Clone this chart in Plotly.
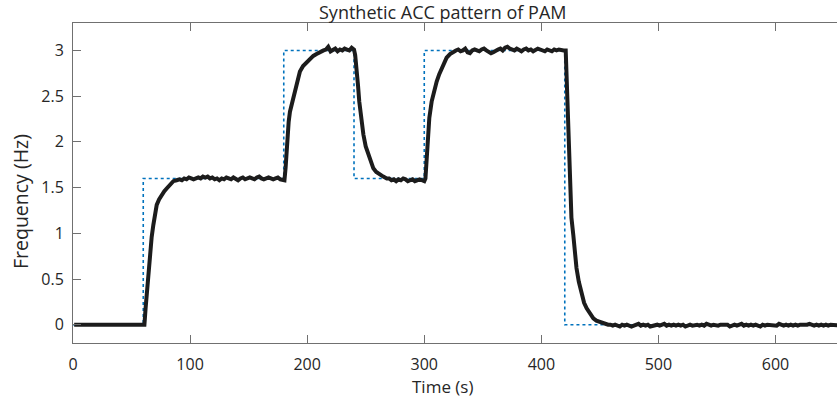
import plotly.graph_objects as go

# ---------------- data ----------------
# reference (commanded) frequency pattern, step-wise
ref_t = [0, 60, 180, 240, 300, 420, 655]
ref_f = [0, 1.6, 3.0, 1.6, 3.0, 0, 0]

idle_t = [1, 61]
idle_f = [0.0, 0.0]

rise1_t = [62, 63, 64.4, 65.8, 67.2, 68.6, 70, 71.5, 73.5, 75.7, 78, 80, 83, 85.7, 88.5, 91]
rise1_f = [0.18, 0.36, 0.60, 0.80, 0.96, 1.09, 1.21, 1.31, 1.37, 1.42, 1.46, 1.49, 1.54, 1.57, 1.58, 1.59]

plat1_t = list(range(93, 180, 2))
plat1_f = [1.58, 1.60, 1.59, 1.61, 1.60, 1.59, 1.60, 1.61, 1.60, 1.62,
           1.61, 1.62, 1.60, 1.61, 1.59, 1.60, 1.58, 1.60, 1.59, 1.61,
           1.60, 1.59, 1.61, 1.60, 1.58, 1.60, 1.61, 1.59, 1.60, 1.61,
           1.60, 1.59, 1.61, 1.62, 1.60, 1.59, 1.60, 1.61, 1.60, 1.59,
           1.60, 1.61, 1.59, 1.58]

rise2_t = [180.6, 181.6, 182.3, 183, 184.2, 185.3, 187.5, 189.6, 191.5, 193.8, 196.5, 199.5, 202, 205.2, 208, 210.5]
rise2_f = [1.58, 1.72, 1.92, 2.08, 2.22, 2.33, 2.44, 2.53, 2.66, 2.77, 2.83, 2.87, 2.91, 2.94, 2.96, 2.98]

plat2_t = list(range(212, 241, 2))
plat2_f = [2.98, 3.00, 3.01, 3.04, 2.99, 3.00, 3.02, 2.99, 3.01, 3.00,
           3.02, 3.01, 3.00, 3.03, 3.01]

fall1_t = [241, 242.3, 243.4, 244.5, 246, 248, 250, 252.2, 254, 256.5, 259, 262, 265, 268]
fall1_f = [2.95, 2.81, 2.62, 2.44, 2.25, 2.08, 1.95, 1.86, 1.78, 1.71, 1.67, 1.64, 1.62, 1.60]

plat3_t = list(range(270, 301, 2))
plat3_f = [1.60, 1.58, 1.59, 1.57, 1.59, 1.58, 1.60, 1.59, 1.57, 1.58,
           1.59, 1.57, 1.58, 1.59, 1.58, 1.57]

rise3_t = [301, 301.8, 302.6, 303.4, 304.3, 306.3, 308.5, 310.6, 312.8, 314.9, 317, 319.1, 322, 325]
rise3_f = [1.60, 1.80, 2.00, 2.14, 2.26, 2.44, 2.57, 2.66, 2.74, 2.81, 2.87, 2.92, 2.96, 2.99]

plat4_t = list(range(327, 420, 2))
plat4_f = [3.00, 3.01, 2.99, 3.00, 3.02, 2.98, 2.97, 3.00, 3.01, 3.00,
           2.99, 3.01, 3.02, 3.00, 2.99, 2.97, 2.98, 3.00, 3.01, 3.02,
           3.00, 3.03, 3.04, 3.02, 3.01, 3.00, 3.02, 3.01, 2.99, 3.01,
           3.02, 3.00, 3.01, 2.99, 3.00, 3.02, 3.01, 3.00, 2.99, 3.01,
           3.00, 2.99, 3.01, 3.00, 3.01, 3.00, 3.00]

fall2_t = [420.8, 421.8, 423, 424.4, 425.7, 427.3, 428.7, 430, 432, 434.4, 436.5, 438.7, 441.5, 444.4, 447, 450, 453.5, 457]
fall2_f = [3.00, 2.60, 2.08, 1.40, 1.17, 0.98, 0.79, 0.62, 0.47, 0.33, 0.24, 0.18, 0.12, 0.07, 0.045, 0.03, 0.01, 0.0]

tail_t = list(range(459, 656, 2))
tail_f = [0.00, -0.01, 0.00, -0.01, -0.02, 0.00, -0.01, 0.00, -0.01, -0.02,
          -0.01, 0.00, 0.01, -0.01, 0.00, -0.01, 0.00, -0.02, -0.01, 0.00,
          0.00, -0.01, 0.00, 0.01, -0.01, 0.00, -0.01, 0.00, -0.01, 0.00,
          -0.01, 0.00, -0.02, -0.01, 0.00, -0.01, 0.00, 0.00, -0.01, 0.00,
          -0.01, 0.01, 0.00, -0.01, 0.00, -0.01, -0.01, 0.00, 0.00, -0.01,
          0.00, -0.02, -0.01, 0.00, -0.01, 0.00, 0.01, -0.01, 0.00, -0.01,
          0.00, -0.01, 0.00, -0.01, -0.02, 0.00, -0.01, 0.00, 0.00, -0.01,
          0.00, -0.01, 0.01, 0.00, -0.01, 0.00, -0.01, 0.00, -0.01, 0.00,
          -0.01, 0.00, 0.00, -0.01, 0.00, 0.01, 0.00, -0.01, 0.00, -0.01,
          0.00, -0.01, 0.00, -0.01, 0.00, 0.00, -0.01, 0.00, -0.01]

x_ticks = [0, 100, 200, 300, 400, 500, 600]
y_ticks = [0, 0.5, 1, 1.5, 2, 2.5, 3]
y_tick_text = ["0", "0.5", "1", "1.5", "2", "2.5", "3"]

title_text = "Synthetic ACC pattern of PAM"
x_label = "Time (s)"
y_label = "Frequency (Hz)"

# ---------------- assemble ----------------
resp_t = (idle_t + rise1_t + plat1_t + rise2_t + plat2_t + fall1_t + plat3_t
          + rise3_t + plat4_t + fall2_t + tail_t[:len(tail_f)])
resp_f = (idle_f + rise1_f + plat1_f + rise2_f + plat2_f + fall1_f + plat3_f
          + rise3_f + plat4_f + fall2_f + tail_f)

FONT = "Open Sans"
TXT = "#262626"
AX = "#707070"

fig = go.Figure()
fig.add_trace(go.Scatter(x=ref_t, y=ref_f, mode="lines", line_shape="hv",
                         line=dict(color="#0072BD", width=1.6, dash="dot"),
                         showlegend=False, hoverinfo="skip"))
fig.add_trace(go.Scatter(x=resp_t, y=resp_f, mode="lines",
                         line=dict(color="#1c1c1c", width=4),
                         showlegend=False))

fig.update_layout(
    width=837, height=402,
    margin=dict(l=73, r=0, t=23, b=59),
    paper_bgcolor="white", plot_bgcolor="white",
    font=dict(family=FONT, size=16, color=TXT),
    xaxis=dict(range=[0, 652.5], tickvals=x_ticks, ticks="inside", ticklen=8,
               tickcolor=AX, showline=True, linecolor=AX, linewidth=1,
               mirror="ticks", showgrid=False, zeroline=False,
               ticklabelstandoff=7,
               tickfont=dict(family=FONT, size=16, color=TXT)),
    yaxis=dict(range=[-0.2, 3.3], tickvals=y_ticks, ticktext=y_tick_text,
               ticks="inside", ticklen=8, tickcolor=AX, showline=True,
               linecolor=AX, linewidth=1, mirror=False, showgrid=False,
               zeroline=False, ticklabelstandoff=5,
               tickfont=dict(family=FONT, size=16, color=TXT)),
    annotations=[
        dict(text=title_text, xref="paper", yref="paper",
             x=(442.5 - 73) / 764, y=1 + 11.0 / 320, xanchor="center", yanchor="middle",
             showarrow=False, font=dict(family=FONT, size=18, color=TXT)),
        dict(text=x_label, xref="paper", yref="paper",
             x=(442.8 - 73) / 764, y=-(386 - 342.7) / 320, xanchor="center", yanchor="middle",
             showarrow=False, font=dict(family=FONT, size=17, color=TXT)),
        dict(text=y_label, xref="paper", yref="paper", textangle=-90,
             x=-(73 - 20) / 764, y=(342.7 - 201.7) / 320, xanchor="center", yanchor="middle",
             showarrow=False, font=dict(family=FONT, size=19.5, color=TXT)),
    ],
)

fig.write_html("out.html")
